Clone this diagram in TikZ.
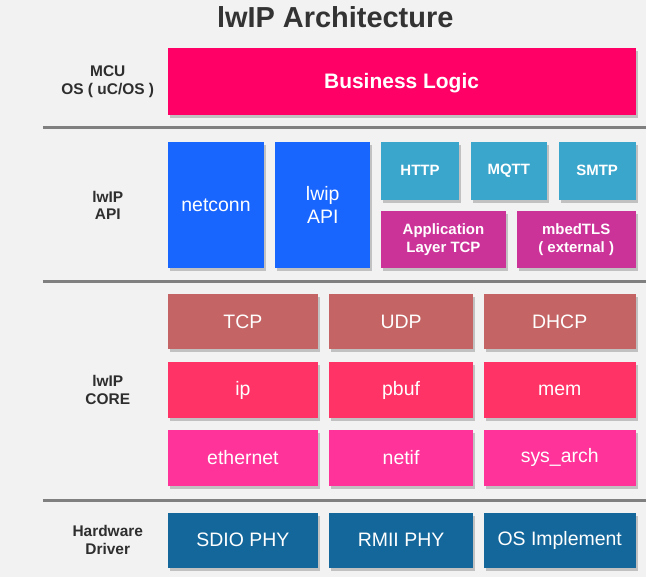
\documentclass[tikz,border=0pt]{standalone}
\usepackage{fontspec}
\setmainfont{Liberation Sans}
\usetikzlibrary{shadows}
\definecolor{bggray}{HTML}{F2F2F2}
\definecolor{titletext}{HTML}{333333}
\definecolor{sidetext}{HTML}{2E2E2E}
\definecolor{sepgray}{HTML}{808080}
\definecolor{bizpink}{HTML}{FF0066}
\definecolor{apiblue}{HTML}{1966FF}
\definecolor{appteal}{HTML}{3AA6CC}
\definecolor{appmagenta}{HTML}{CC3399}
\definecolor{transred}{HTML}{C46464}
\definecolor{netpink}{HTML}{FF3366}
\definecolor{linkpink}{HTML}{FF3399}
\definecolor{hwblue}{HTML}{14679A}
\begin{document}
\begin{tikzpicture}[x=1pt,y=-1pt,
    box/.style={inner sep=0pt,text=white,align=center,
        font=\fontsize{19.5}{23}\selectfont,
        drop shadow={shadow xshift=2pt,shadow yshift=-3pt,opacity=.2,fill=black}},
    smallbox/.style={box,font=\bfseries\fontsize{15}{18}\selectfont},
    side/.style={align=center,text=sidetext,font=\bfseries\fontsize{15.5}{17.5}\selectfont},
    sep/.style={draw=sepgray,line width=3pt}]
    \fill[bggray] (0,0) rectangle (647,578);
    \node[text=titletext,font=\bfseries\fontsize{29}{33}\selectfont] (title) at (336,17) {lwIP Architecture};
    % layer separators
    \draw[sep] (43,128) -- (647,128);
    \draw[sep] (43,282) -- (647,282);
    \draw[sep] (43,502) -- (647,502);
    % side labels
    \node[side] (lblos) at (108,82) {MCU\\OS ( uC/OS )};
    \node[side] (lblapi) at (108,206) {lwIP\\API};
    \node[side] (lblcore) at (108,391) {lwIP\\CORE};
    \node[side] (lbldrv) at (108,541) {Hardware\\Driver};
    % application
    \node[box,fill=bizpink,minimum width=469pt,minimum height=67pt,text depth=1pt,font=\bfseries\fontsize{21}{25}\selectfont] (biz) at (402.5,81.5) {Business Logic};
    % api layer
    \node[box,fill=apiblue,minimum width=97pt,minimum height=127pt] (netconn) at (216.5,205.5) {netconn};
    \node[box,fill=apiblue,minimum width=95pt,minimum height=127pt] (lwipapi) at (323.5,205.5) {lwip\\API};
    \foreach \n/\t/\x/\w in {http/HTTP/421/78,mqtt/MQTT/510/76,smtp/SMTP/598.5/77}{
        \node[smallbox,fill=appteal,minimum width=\w pt,minimum height=58pt] (\n) at (\x,171) {\t};
    }
    \node[smallbox,fill=appmagenta,minimum width=125pt,minimum height=58pt] (apptcp) at (444.5,240) {Application\\Layer TCP};
    \node[smallbox,fill=appmagenta,minimum width=119pt,minimum height=58pt] (mbedtls) at (577.5,240) {mbedTLS\\( external )};
    % core
    \foreach \n/\t/\x/\w in {tcp/TCP/243.5/151,udp/UDP/402/144,dhcp/DHCP/561/152}{
        \node[box,fill=transred,minimum width=\w pt,minimum height=55pt] (\n) at (\x,322.5) {\t};
    }
    \foreach \n/\t/\x/\w in {ip/ip/243.5/151,pbuf/pbuf/402/144,mem/mem/561/152}{
        \node[box,fill=netpink,minimum width=\w pt,minimum height=56pt] (\n) at (\x,391) {\t};
    }
    \foreach \n/\t/\x/\w in {eth/ethernet/243.5/151,netif/netif/402/144,sysarch/sys\_arch/561/152}{
        \node[box,fill=linkpink,minimum width=\w pt,minimum height=56pt] (\n) at (\x,459) {\t};
    }
    % drivers
    \foreach \n/\t/\x/\w in {sdio/SDIO PHY/243.5/151,rmii/RMII PHY/402/144,osimpl/OS Implement/561/152}{
        \node[box,fill=hwblue,minimum width=\w pt,minimum height=55pt] (\n) at (\x,541.5) {\t};
    }
\end{tikzpicture}
\end{document}
